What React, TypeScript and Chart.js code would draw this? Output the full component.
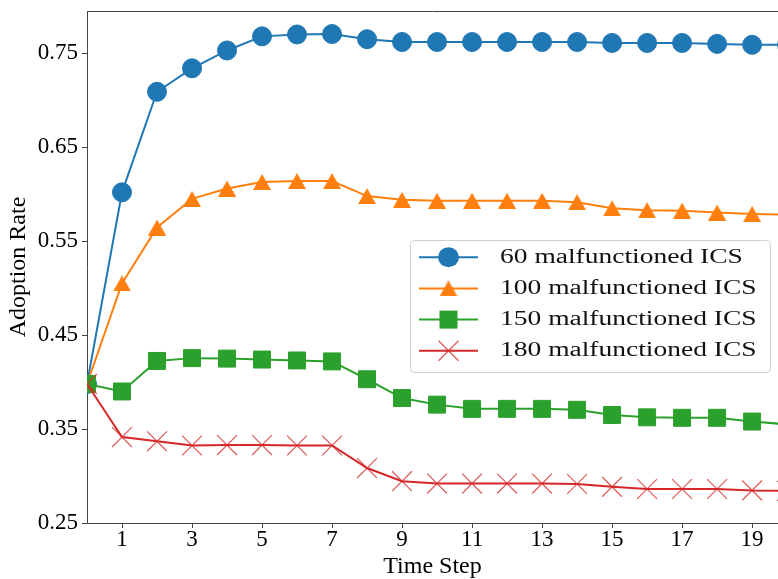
import React, { useEffect, useRef } from "react";
import { Chart, registerables } from "chart.js";

Chart.register(...registerables);

const timeSteps = [0, 1, 2, 3, 4, 5, 6, 7, 8, 9, 10, 11, 12, 13, 14, 15, 16, 17, 18, 19, 20];
const xTickValues = [1, 3, 5, 7, 9, 11, 13, 15, 17, 19];
const yTickValues = [0.25, 0.35, 0.45, 0.55, 0.65, 0.75];
const seriesLabels = [
  "60 malfunctioned ICS",
  "100 malfunctioned ICS",
  "150 malfunctioned ICS",
  "180 malfunctioned ICS",
];
const ics60 = [0.398, 0.602, 0.709, 0.734, 0.753, 0.768, 0.77, 0.7705, 0.765, 0.762, 0.762, 0.762, 0.762, 0.762, 0.762, 0.761, 0.761, 0.761, 0.76, 0.759, 0.759];
const ics100 = [0.398, 0.505, 0.5645, 0.595, 0.606, 0.613, 0.614, 0.614, 0.598, 0.594, 0.593, 0.593, 0.593, 0.593, 0.5915, 0.585, 0.583, 0.5825, 0.5805, 0.579, 0.578];
const ics150 = [0.398, 0.39, 0.4225, 0.4255, 0.425, 0.424, 0.423, 0.422, 0.403, 0.383, 0.376, 0.3715, 0.3715, 0.3715, 0.3705, 0.365, 0.3625, 0.362, 0.362, 0.358, 0.355];
const ics180 = [0.398, 0.3415, 0.337, 0.3325, 0.333, 0.333, 0.3325, 0.3325, 0.3085, 0.2945, 0.292, 0.292, 0.292, 0.292, 0.2915, 0.2885, 0.2862, 0.2862, 0.2862, 0.2847, 0.2843];

const FONT = "'Liberation Serif', 'Times New Roman', Times, serif";
const COLORS = ["#1f77b4", "#ff7f0e", "#2ca02c", "#d62728"];
const X_COLOR = "rgba(214,39,40,0.75)";

function makeTriangle(color: string): HTMLCanvasElement {
  const c = document.createElement("canvas");
  c.width = 18;
  c.height = 16;
  const g = c.getContext("2d")!;
  g.fillStyle = color;
  g.beginPath();
  g.moveTo(9, 0);
  g.lineTo(18, 16);
  g.lineTo(0, 16);
  g.closePath();
  g.fill();
  return c;
}

function drawLegendMarker(ctx: CanvasRenderingContext2D, idx: number, x: number, y: number, tri: HTMLCanvasElement) {
  ctx.save();
  if (idx === 0) {
    ctx.fillStyle = COLORS[0];
    ctx.beginPath();
    ctx.ellipse(x, y, 10.5, 10, 0, 0, Math.PI * 2);
    ctx.fill();
  } else if (idx === 1) {
    ctx.drawImage(tri, x - 9, y - 8);
  } else if (idx === 2) {
    ctx.fillStyle = COLORS[2];
    ctx.fillRect(x - 9, y - 9, 18, 18);
  } else {
    ctx.strokeStyle = X_COLOR;
    ctx.lineWidth = 1.3;
    ctx.beginPath();
    ctx.moveTo(x - 10, y - 10);
    ctx.lineTo(x + 10, y + 10);
    ctx.moveTo(x - 10, y + 10);
    ctx.lineTo(x + 10, y - 10);
    ctx.stroke();
  }
  ctx.restore();
}

export default function App() {
  const ref = useRef<HTMLCanvasElement | null>(null);

  useEffect(() => {
    const canvas = ref.current;
    if (!canvas) return;
    const tri = makeTriangle(COLORS[1]);

    const toPoints = (arr: number[]) => timeSteps.map((t, i) => ({ x: t, y: arr[i] }));

    const frame = {
      id: "frame",
      afterDatasetsDraw(chart: any) {
        const { ctx, chartArea } = chart;
        ctx.save();
        ctx.strokeStyle = "#444";
        ctx.lineWidth = 1;
        ctx.beginPath();
        ctx.moveTo(chartArea.left, Math.round(chartArea.top) + 0.5);
        ctx.lineTo(chartArea.right, Math.round(chartArea.top) + 0.5);
        ctx.stroke();
        ctx.restore();
      },
    };

    const legendBox = {
      id: "legendBox",
      afterDraw(chart: any) {
        const ctx: CanvasRenderingContext2D = chart.ctx;
        const bx = 410.5, by = 240.5, bw = 360, bh = 132, r = 4;
        ctx.save();
        ctx.beginPath();
        ctx.moveTo(bx + r, by);
        ctx.lineTo(bx + bw - r, by);
        ctx.arcTo(bx + bw, by, bx + bw, by + r, r);
        ctx.lineTo(bx + bw, by + bh - r);
        ctx.arcTo(bx + bw, by + bh, bx + bw - r, by + bh, r);
        ctx.lineTo(bx + r, by + bh);
        ctx.arcTo(bx, by + bh, bx, by + bh - r, r);
        ctx.lineTo(bx, by + r);
        ctx.arcTo(bx, by, bx + r, by, r);
        ctx.closePath();
        ctx.fillStyle = "rgba(255,255,255,0.85)";
        ctx.fill();
        ctx.strokeStyle = "#d0d0d0";
        ctx.lineWidth = 1;
        ctx.stroke();

        chart.data.datasets.forEach((ds: any, i: number) => {
          const cy = 257.3 + i * 31.15;
          ctx.strokeStyle = COLORS[i];
          ctx.lineWidth = 2;
          ctx.beginPath();
          ctx.moveTo(419, cy);
          ctx.lineTo(478, cy);
          ctx.stroke();
          drawLegendMarker(ctx, i, 448.5, cy, tri);
          ctx.save();
          ctx.translate(500, cy);
          ctx.scale(1.375, 1);
          ctx.fillStyle = "#111";
          ctx.font = `20px ${FONT}`;
          ctx.textBaseline = "middle";
          ctx.textAlign = "left";
          ctx.direction = "ltr";
          ctx.fillText(ds.label, 0, 0);
          ctx.restore();
        });
        ctx.restore();
      },
    };

    const chart = new Chart(canvas, {
      type: "line",
      data: {
        datasets: [
          {
            label: seriesLabels[0],
            data: toPoints(ics60),
            borderColor: COLORS[0],
            backgroundColor: COLORS[0],
            borderWidth: 2,
            pointStyle: "circle",
            pointRadius: 9.5,
            pointBorderWidth: 1,
            pointBorderColor: COLORS[0],
            pointBackgroundColor: COLORS[0],
            order: 4,
            clip: 0,
          },
          {
            label: seriesLabels[1],
            data: toPoints(ics100),
            borderColor: COLORS[1],
            backgroundColor: COLORS[1],
            borderWidth: 2,
            pointStyle: tri,
            pointRadius: 9,
            order: 3,
            clip: 0,
          },
          {
            label: seriesLabels[2],
            data: toPoints(ics150),
            borderColor: COLORS[2],
            backgroundColor: COLORS[2],
            borderWidth: 2,
            pointStyle: "rect",
            pointRadius: 12,
            pointBorderWidth: 1,
            pointBorderColor: COLORS[2],
            pointBackgroundColor: COLORS[2],
            order: 2,
            clip: 0,
          },
          {
            label: seriesLabels[3],
            data: toPoints(ics180),
            borderColor: COLORS[3],
            backgroundColor: COLORS[3],
            borderWidth: 2,
            pointStyle: "crossRot",
            pointRadius: 14,
            pointBorderWidth: 1.3,
            pointBorderColor: X_COLOR,
            order: 1,
            clip: 0,
          },
        ] as any,
      },
      options: {
        responsive: false,
        animation: false,
        devicePixelRatio: 1,
        layout: { autoPadding: false, padding: { top: 11, left: 0, right: 0, bottom: 0 } },
        elements: { line: { tension: 0 } },
        plugins: {
          legend: { display: false },
          tooltip: { enabled: false },
        },
        events: [],
        scales: {
          x: {
            type: "linear",
            min: 0,
            max: 19.74,
            afterBuildTicks: (s: any) => {
              s.ticks = xTickValues.map((v) => ({ value: v }));
            },
            afterFit: (s: any) => {
              s.height = 56;
              s.paddingLeft = 0;
              s.paddingRight = 0;
            },
            ticks: {
              color: "#000",
              padding: 0,
              font: { family: FONT, size: 23, lineHeight: 1 },
              callback: (v: any) => String(v),
              maxRotation: 0,
            },
            grid: { display: true, drawOnChartArea: false, drawTicks: true, tickLength: 5, color: "#444" },
            border: { display: true, color: "#444", width: 1 },
            title: {
              display: true,
              text: "Time Step",
              color: "#000",
              padding: 0,
              font: { family: FONT, size: 24, lineHeight: 1 },
            },
          },
          y: {
            type: "linear",
            min: 0.25,
            max: 0.795,
            afterBuildTicks: (s: any) => {
              s.ticks = yTickValues.map((v) => ({ value: v }));
            },
            afterFit: (s: any) => {
              s.width = 87;
              s.paddingTop = 0;
              s.paddingBottom = 0;
            },
            ticks: {
              color: "#000",
              padding: 4,
              font: { family: FONT, size: 23 },
              callback: (v: any) => Number(v).toFixed(2),
            },
            grid: { display: true, drawOnChartArea: false, drawTicks: true, tickLength: 5, color: "#444" },
            border: { display: true, color: "#444", width: 1 },
            title: {
              display: true,
              text: "Adoption Rate",
              color: "#000",
              padding: { top: 7, bottom: 0 },
              font: { family: FONT, size: 24, lineHeight: 1 },
            },
          },
        },
      } as any,
      plugins: [frame, legendBox],
    });

    return () => chart.destroy();
  }, []);

  return (
    <div style={{ position: "fixed", left: 0, top: 0, width: 778, height: 579, background: "#fff" }}>
      <canvas ref={ref} width={778} height={579} style={{ display: "block", width: 778, height: 579 }} />
    </div>
  );
}
